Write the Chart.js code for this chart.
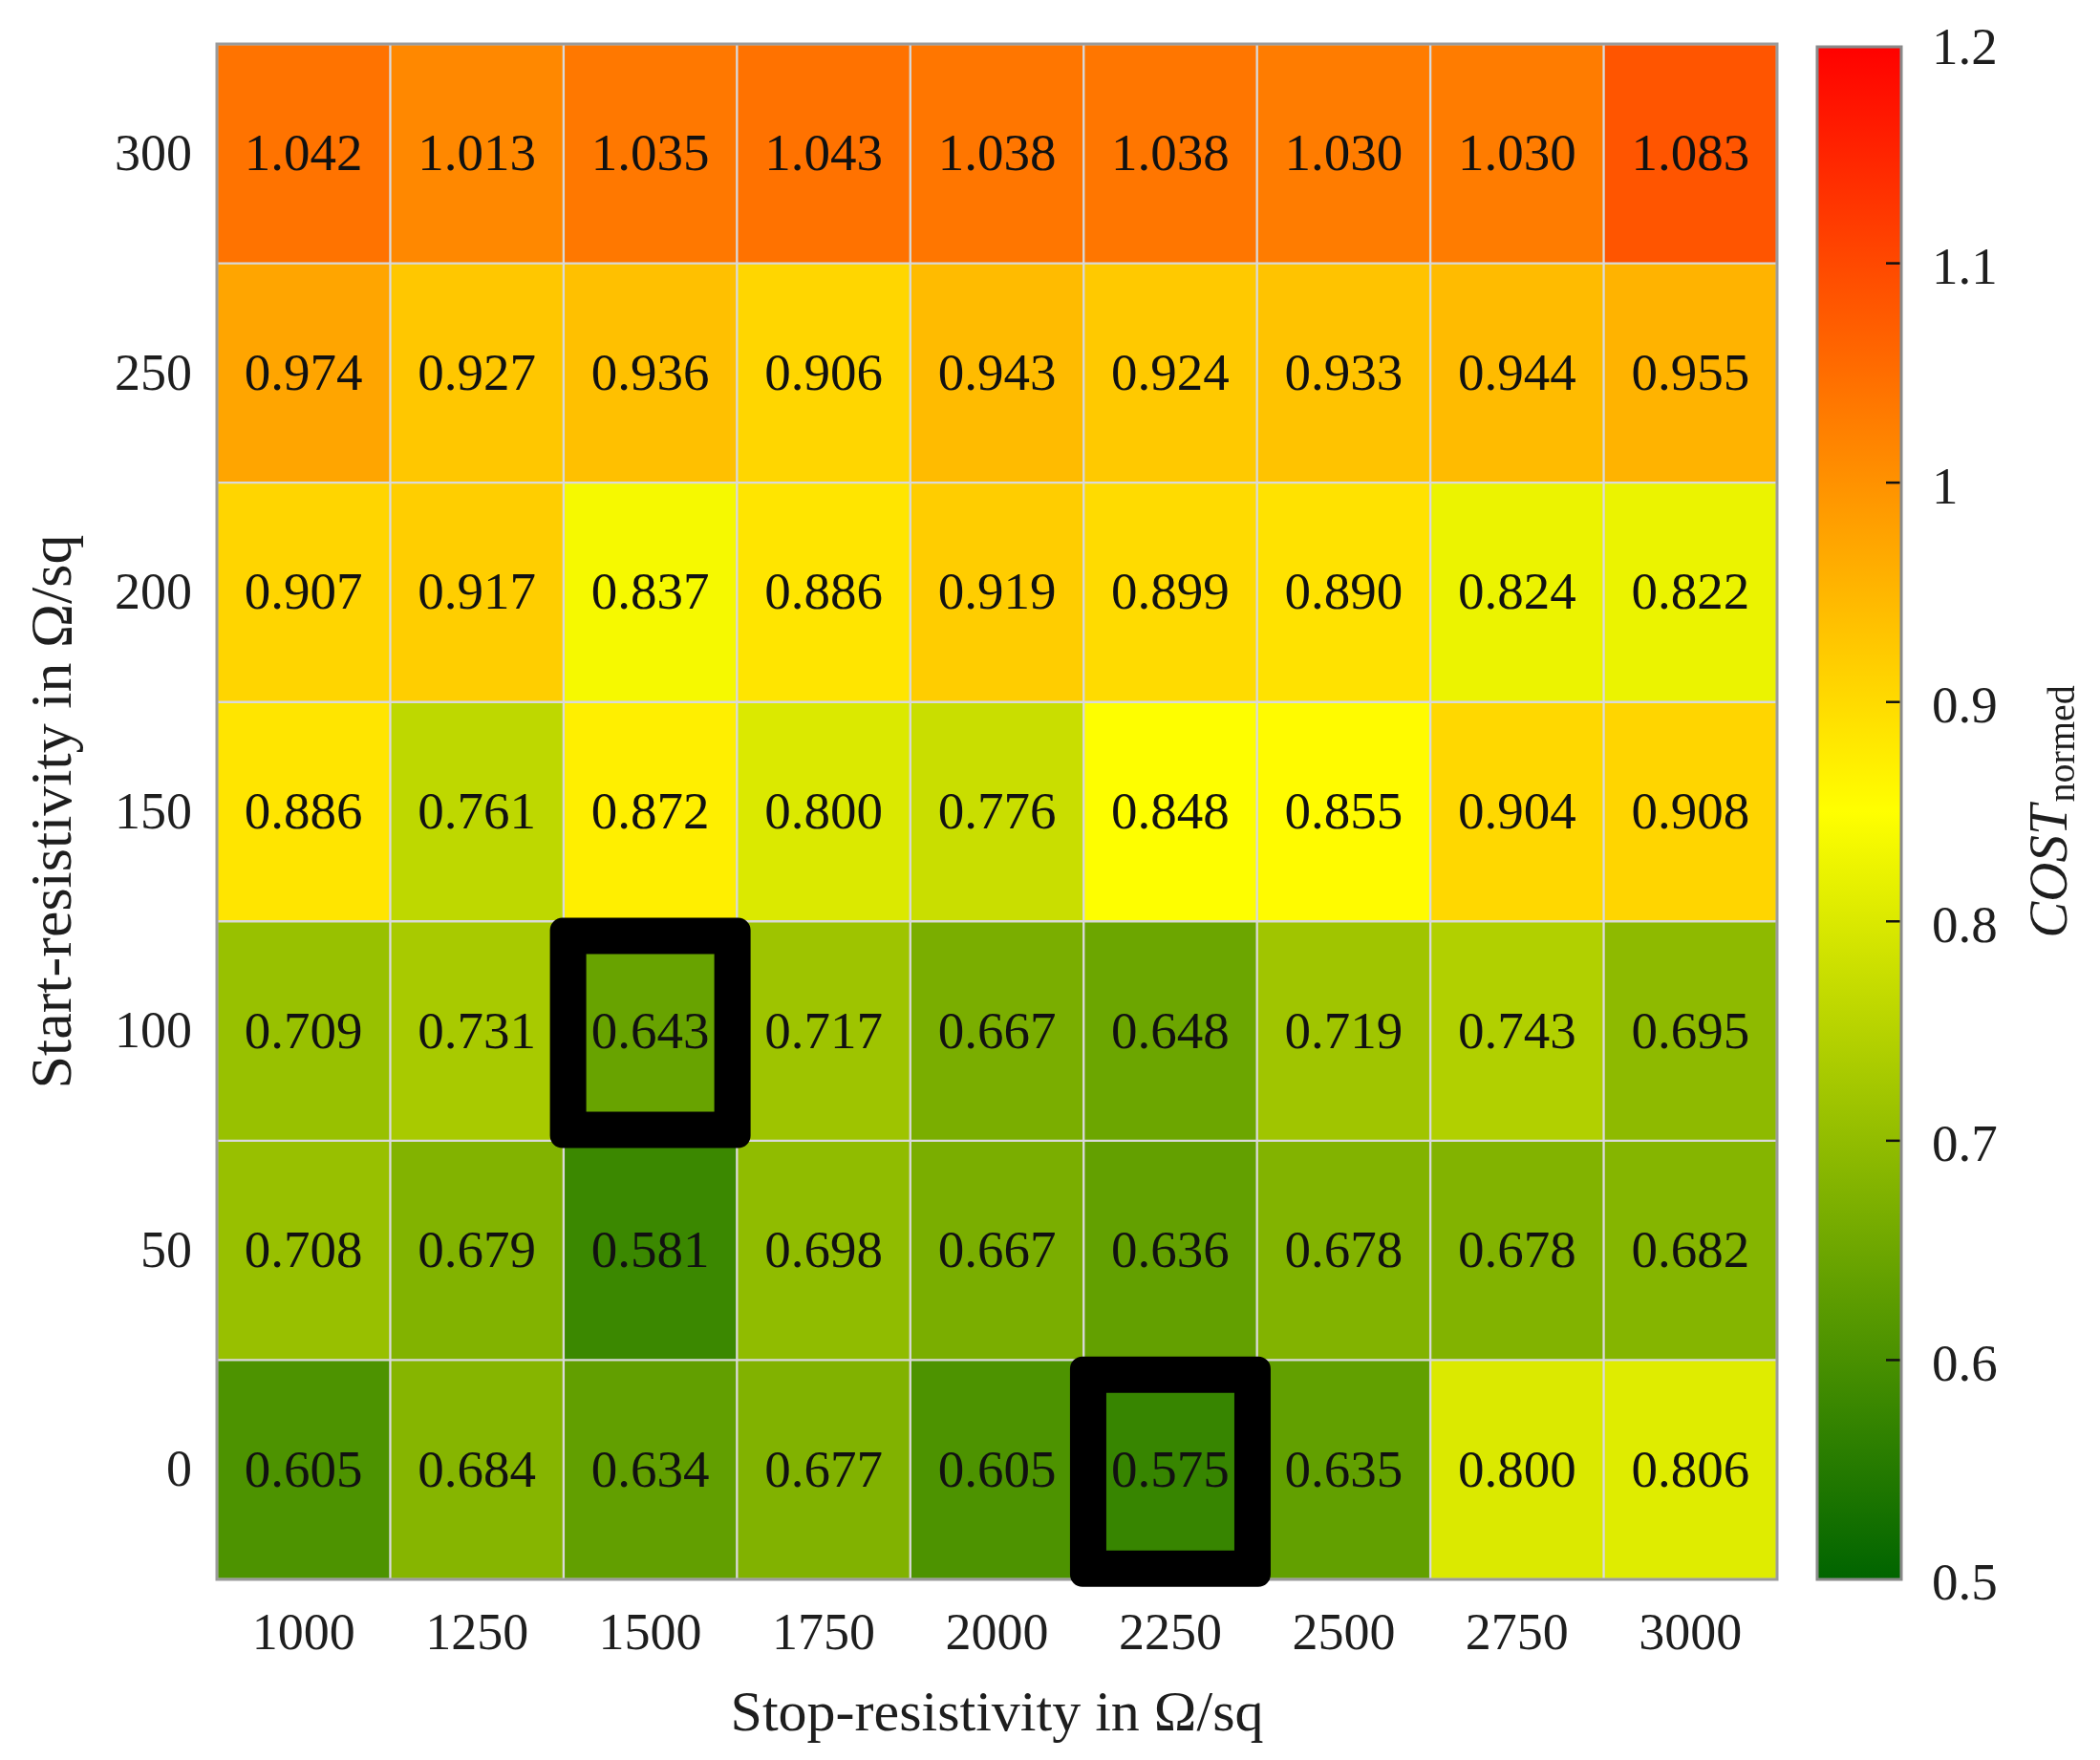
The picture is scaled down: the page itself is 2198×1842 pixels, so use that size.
<!DOCTYPE html>
<html>
<head>
<meta charset="utf-8">
<script src="https://cdn.jsdelivr.net/npm/chart.js@4.4.1/dist/chart.umd.min.js"></script>
<style>
  html, body { margin: 0; padding: 0; background: #fff; }
  canvas { display: block; }
</style>
</head>
<body>
<canvas id="heat" width="2198" height="1842"></canvas>
<script>
// stop-resistivity columns and start-resistivity rows (Ω/sq)
const stopRes = ['1000', '1250', '1500', '1750', '2000', '2250', '2500', '2750', '3000'];
const startRes = [0, 50, 100, 150, 200, 250, 300];

// normalised cost per row, left to right
const cost0   = [0.605, 0.684, 0.634, 0.677, 0.605, 0.575, 0.635, 0.800, 0.806];
const cost50  = [0.708, 0.679, 0.581, 0.698, 0.667, 0.636, 0.678, 0.678, 0.682];
const cost100 = [0.709, 0.731, 0.643, 0.717, 0.667, 0.648, 0.719, 0.743, 0.695];
const cost150 = [0.886, 0.761, 0.872, 0.800, 0.776, 0.848, 0.855, 0.904, 0.908];
const cost200 = [0.907, 0.917, 0.837, 0.886, 0.919, 0.899, 0.890, 0.824, 0.822];
const cost250 = [0.974, 0.927, 0.936, 0.906, 0.943, 0.924, 0.933, 0.944, 0.955];
const cost300 = [1.042, 1.013, 1.035, 1.043, 1.038, 1.038, 1.030, 1.030, 1.083];
const costRows = [cost0, cost50, cost100, cost150, cost200, cost250, cost300];

// cells marked with a black frame
const highlights = [{ stop: '1500', start: 100 }, { stop: '2250', start: 0 }];

// colour bar
const cbTicks = [0.5, 0.6, 0.7, 0.8, 0.9, 1.0, 1.1, 1.2];
const cbMin = 0.5, cbMid = 0.85, cbMax = 1.2;

const serif = '"Liberation Serif", "Times New Roman", serif';
const textColor = '#1e1e1e';

// green -> yellow -> red
function costColor(v) {
  let r, g;
  if (v <= cbMid) {
    const t = Math.max(0, (v - cbMin) / (cbMid - cbMin));
    r = 255 * t;
    g = 100 + 155 * t;
  } else {
    const t = Math.min(1, (v - cbMid) / (cbMax - cbMid));
    r = 255;
    g = 255 * (1 - t);
  }
  return 'rgb(' + Math.round(r) + ',' + Math.round(g) + ',0)';
}

const half = (startRes[1] - startRes[0]) / 2;

const datasets = startRes.map((s, i) => ({
  label: String(s),
  data: costRows[i].map(() => [s - half, s + half]),
  costs: costRows[i],
  backgroundColor: costRows[i].map(costColor),
  borderColor: '#d9d9d9',
  borderWidth: 1.5,
  borderSkipped: false,
  grouped: false,
  barPercentage: 1,
  categoryPercentage: 1
}));

// fixed axis sizes, no extra padding from the labels
function fixSize(w, h) {
  return s => {
    if (w) s.width = w;
    if (h) s.height = h;
    s.paddingTop = 0; s.paddingBottom = 0;
    s.paddingLeft = 0; s.paddingRight = 0;
  };
}

const heatOverlay = {
  id: 'heatOverlay',
  afterDatasetsDraw(chart) {
    const { ctx, chartArea } = chart;
    ctx.save();

    // cell values
    ctx.font = '55px ' + serif;
    ctx.fillStyle = '#111';
    ctx.textAlign = 'center';
    ctx.textBaseline = 'middle';
    chart.data.datasets.forEach((ds, i) => {
      chart.getDatasetMeta(i).data.forEach((bar, j) => {
        const p = bar.getProps(['x', 'y', 'base'], true);
        ctx.fillText(ds.costs[j].toFixed(3), p.x, (p.y + p.base) / 2 + 3);
      });
    });

    // plot frame
    ctx.strokeStyle = '#9b9b9b';
    ctx.lineWidth = 3;
    ctx.strokeRect(chartArea.left, chartArea.top, chartArea.right - chartArea.left, chartArea.bottom - chartArea.top);

    // black frames
    const xs = chart.scales.x, ys = chart.scales.y;
    const cw = xs.getPixelForValue(1) - xs.getPixelForValue(0);
    const ch = Math.abs(ys.getPixelForValue(2 * half) - ys.getPixelForValue(0));
    const lw = 38;
    highlights.forEach(h => {
      const cx = xs.getPixelForValue(stopRes.indexOf(h.stop));
      const cy = ys.getPixelForValue(h.start) + 2;
      const w = cw * 0.948, hh = ch * 0.884;
      ctx.beginPath();
      const ox = cx - w / 2 - lw / 2, oy = cy - hh / 2 - lw / 2;
      if (ctx.roundRect) ctx.roundRect(ox, oy, w + lw, hh + lw, 13);
      else ctx.rect(ox, oy, w + lw, hh + lw);
      ctx.rect(cx - w / 2 + lw / 2, cy - hh / 2 + lw / 2, w - lw, hh - lw);
      ctx.fillStyle = '#000';
      ctx.fill('evenodd');
    });
    ctx.restore();
  },
  afterDraw(chart) {
    const { ctx } = chart;
    const cb = chart.scales.cb;
    const x0 = cb.left + 42, x1 = cb.left + 130;
    const yTop = cb.getPixelForValue(cbMax), yBot = cb.getPixelForValue(cbMin);
    ctx.save();
    const grad = ctx.createLinearGradient(0, yBot, 0, yTop);
    grad.addColorStop(0, costColor(cbMin));
    grad.addColorStop((cbMid - cbMin) / (cbMax - cbMin), costColor(cbMid));
    grad.addColorStop(1, costColor(cbMax));
    ctx.fillStyle = grad;
    ctx.fillRect(x0, yTop + 3, x1 - x0, yBot - yTop - 3);
    ctx.strokeStyle = '#8a8a8a';
    ctx.lineWidth = 3;
    ctx.strokeRect(x0, yTop + 3, x1 - x0, yBot - yTop - 3);

    // inner tick marks
    ctx.strokeStyle = '#111';
    ctx.lineWidth = 2.5;
    cbTicks.slice(1, -1).forEach(v => {
      const y = cb.getPixelForValue(v);
      ctx.beginPath();
      ctx.moveTo(x1 - 16, y);
      ctx.lineTo(x1 - 1.5, y);
      ctx.stroke();
    });

    // COST_normed title
    ctx.fillStyle = textColor;
    ctx.textBaseline = 'alphabetic';
    ctx.textAlign = 'left';
    ctx.font = 'italic 57px ' + serif;
    const w1 = ctx.measureText('COST').width;
    ctx.font = '40px ' + serif;
    const w2 = ctx.measureText('normed').width;
    const total = w1 + 3 + w2;
    const midY = (yTop + yBot) / 2;
    ctx.translate(cb.left + 303, midY + total / 2);
    ctx.rotate(-Math.PI / 2);
    ctx.font = 'italic 57px ' + serif;
    ctx.fillText('COST', 0, 0);
    ctx.font = '40px ' + serif;
    ctx.fillText('normed', w1 + 3, 8);
    ctx.restore();
  }
};

new Chart(document.getElementById('heat').getContext('2d'), {
  type: 'bar',
  data: { labels: stopRes, datasets: datasets },
  options: {
    responsive: false,
    animation: false,
    devicePixelRatio: 1,
    layout: { padding: { top: 46, left: 0, right: 0, bottom: 0 } },
    plugins: { legend: { display: false }, tooltip: { enabled: false } },
    scales: {
      x: {
        type: 'category',
        offset: true,
        grid: { display: false, drawTicks: false },
        border: { display: false },
        ticks: { color: textColor, padding: 26, font: { family: serif, size: 54 } },
        title: {
          display: true,
          text: 'Stop-resistivity in Ω/sq',
          color: textColor,
          font: { family: serif, size: 60 },
          padding: { top: 0, bottom: 11 }
        },
        afterFit: fixSize(0, 189)
      },
      y: {
        type: 'linear',
        min: startRes[0] - half,
        max: startRes[startRes.length - 1] + half,
        afterBuildTicks: s => { s.ticks = startRes.map(v => ({ value: v })); },
        grid: { display: false, drawTicks: false },
        border: { display: false },
        ticks: { color: textColor, padding: 26, labelOffset: 3, font: { family: serif, size: 54 }, callback: v => String(v) },
        title: {
          display: true,
          text: 'Start-resistivity in Ω/sq',
          color: textColor,
          font: { family: serif, size: 62 },
          padding: { top: 21, bottom: 0 }
        },
        afterFit: fixSize(227, 0)
      },
      cb: {
        type: 'linear',
        position: 'right',
        min: cbMin,
        max: cbMax,
        afterBuildTicks: s => { s.ticks = cbTicks.map(v => ({ value: v })); },
        grid: { display: false, drawTicks: false },
        border: { display: false },
        ticks: { color: textColor, padding: 162, labelOffset: 7, font: { family: serif, size: 55 }, callback: v => String(v) },
        afterFit: fixSize(338, 0)
      }
    }
  },
  plugins: [heatOverlay]
});
</script>
</body>
</html>
